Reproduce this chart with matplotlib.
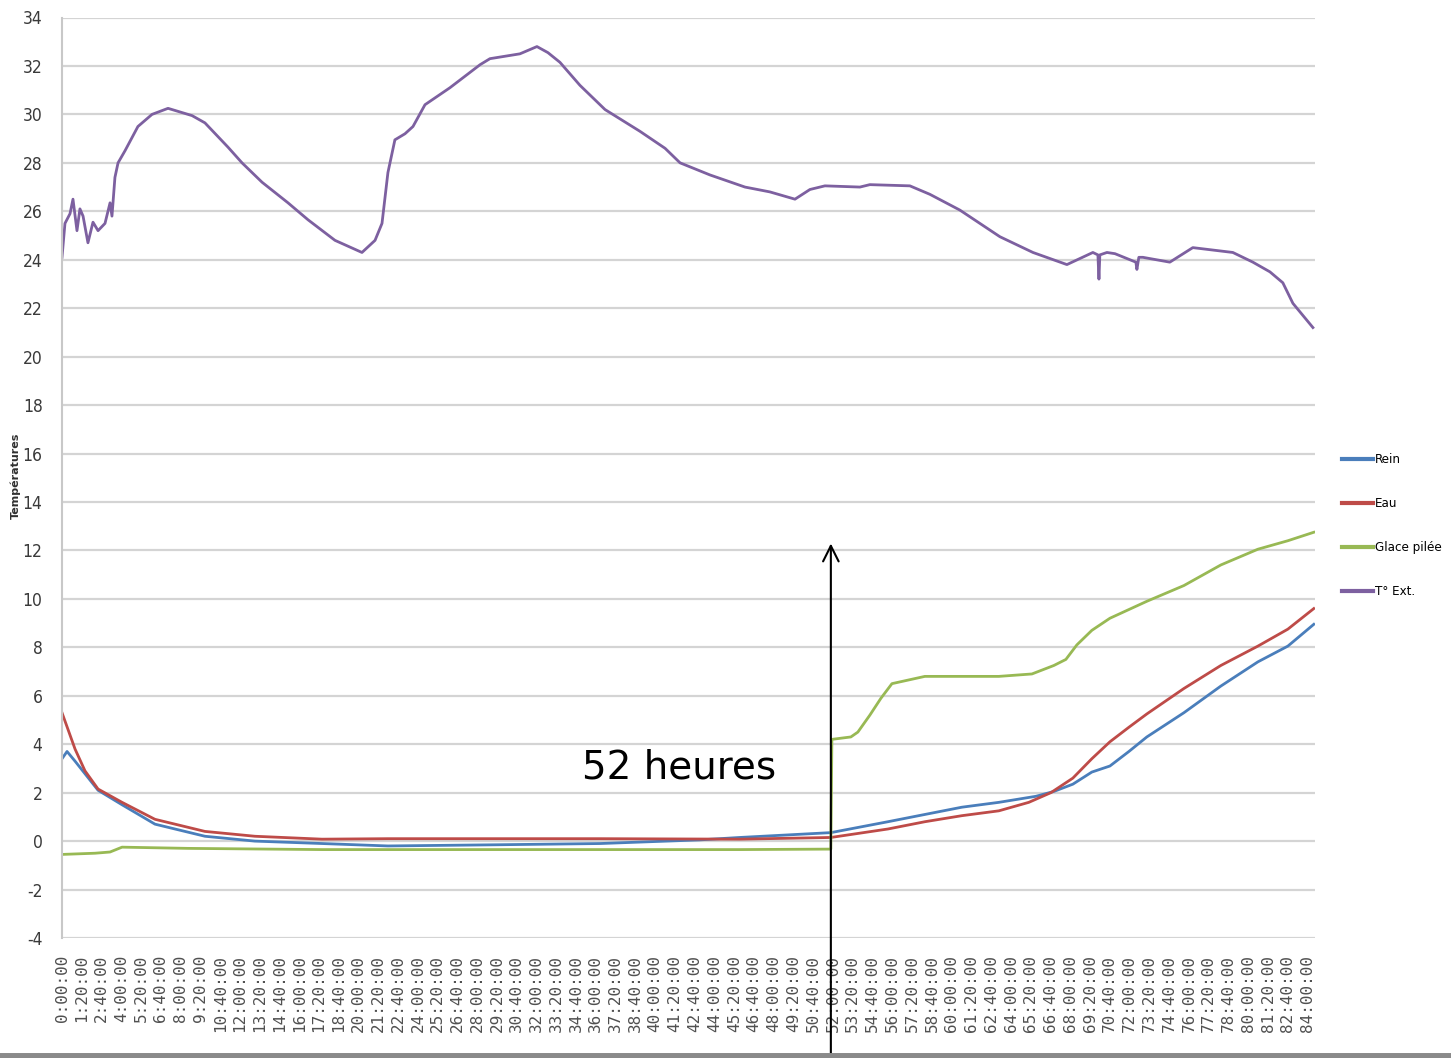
import matplotlib
matplotlib.use("Agg")
import matplotlib.pyplot as plt
from matplotlib.lines import Line2D
from matplotlib.font_manager import FontProperties

# ---------------- data (hours, °C) ----------------
rein_t = [0, 0.34, 0.88, 2.43, 4.05, 6.27, 9.64, 13.01, 17.53, 21.98, 29.5, 36.3, 43.0, 45.7,
          51.85, 55.7, 58.19, 60.69, 63.18, 65.68, 66.89, 68.17, 69.45, 70.67, 71.95, 73.16,
          75.66, 78.15, 80.65, 82.67, 84.42]
rein_v = [3.4, 3.7, 3.3, 2.1, 1.5, 0.7, 0.2, 0.0, -0.1, -0.2, -0.15, -0.1, 0.05, 0.15,
          0.35, 0.8, 1.1, 1.4, 1.6, 1.85, 2.05, 2.35, 2.85, 3.1, 3.7, 4.3,
          5.3, 6.4, 7.4, 8.05, 8.95]

eau_t = [0, 0.88, 1.55, 2.43, 4.05, 6.27, 9.64, 13.01, 17.53, 21.98, 29.5, 36.3, 45.7,
         51.85, 55.7, 58.19, 60.69, 63.18, 65.2, 66.69, 68.17, 69.45, 70.67, 71.95, 73.16,
         75.66, 78.15, 80.65, 82.67, 84.42]
eau_v = [5.3, 3.8, 2.9, 2.15, 1.6, 0.9, 0.4, 0.2, 0.08, 0.1, 0.1, 0.1, 0.08,
         0.15, 0.5, 0.8, 1.05, 1.25, 1.6, 2.0, 2.6, 3.4, 4.1, 4.7, 5.25,
         6.3, 7.25, 8.05, 8.75, 9.6]

glace_t = [0, 2.23, 3.24, 4.05, 8.5, 17.53, 29.5, 45.7, 51.85, 51.92, 53.2, 53.67, 54.48,
           55.23, 55.97, 58.19, 60.69, 63.18, 65.41, 66.89, 67.7, 68.44, 69.45, 70.67,
           73.16, 75.66, 78.15, 80.65, 82.67, 84.42]
glace_v = [-0.55, -0.5, -0.45, -0.25, -0.3, -0.35, -0.35, -0.35, -0.33, 4.2, 4.3, 4.5, 5.2,
           5.9, 6.5, 6.8, 6.8, 6.8, 6.9, 7.25, 7.5, 8.1, 8.7, 9.2,
           9.9, 10.55, 11.4, 12.05, 12.4, 12.75]

ext_t = [0.0, 0.2, 0.54, 0.74, 1.01, 1.21, 1.42, 1.75, 2.09, 2.43, 2.9, 3.24, 3.37, 3.57,
         3.78, 4.25, 5.12, 6.07, 7.15, 8.77, 9.64, 11.19, 12.14, 13.49, 15.24, 16.59,
         18.41, 20.23, 21.11, 21.58, 21.98, 22.45, 23.13, 23.67, 24.48, 26.16, 28.19,
         28.86, 30.88, 32.03, 32.77, 33.58, 34.93, 36.62, 38.98, 40.67, 41.68, 43.7,
         46.06, 47.74, 49.43, 50.44, 51.45, 53.81, 54.48, 57.18, 58.53, 60.55, 63.25,
         65.48, 67.77, 69.52, 69.86, 69.93, 69.99, 70.47, 71.01, 72.42, 72.49, 72.62,
         72.89, 74.71, 76.26, 78.96, 80.31, 81.46, 82.33, 83.01, 84.36]
ext_v = [24.1, 25.5, 25.9, 26.5, 25.2, 26.1, 25.8, 24.7, 25.55, 25.2, 25.5, 26.35, 25.8, 27.4,
         28.0, 28.5, 29.5, 30.0, 30.25, 29.95, 29.65, 28.65, 28.0, 27.2, 26.35, 25.65,
         24.8, 24.3, 24.8, 25.5, 27.6, 28.95, 29.2, 29.5, 30.4, 31.1, 32.05,
         32.3, 32.5, 32.8, 32.55, 32.15, 31.2, 30.2, 29.3, 28.6, 28.0, 27.5,
         27.0, 26.8, 26.5, 26.9, 27.05, 27.0, 27.1, 27.05, 26.7, 26.05, 24.95,
         24.3, 23.8, 24.3, 24.2, 23.2, 24.2, 24.3, 24.25, 23.9, 23.6, 24.1,
         24.1, 23.9, 24.5, 24.3, 23.9, 23.5, 23.05, 22.2, 21.2]

series_names = ["Rein", "Eau", "Glace pilée", "T° Ext."]
series_colors = ["#4a7ebb", "#be4b48", "#98b954", "#7d60a0"]

tick_hours_step = 80 / 60.0
n_ticks = 64
y_ticks = list(range(-4, 35, 2))

annot_text = "52 heures"
annot_hour = 51.85

# ---------------- figure ----------------
W, H = 1451, 1058
fig = plt.figure(figsize=(W / 100, H / 100), dpi=100)
ax = fig.add_axes([62 / W, 1 - 938 / H, (1315 - 62) / W, (938 - 17.5) / H])

data = [(rein_t, rein_v), (eau_t, eau_v), (glace_t, glace_v), (ext_t, ext_v)]
for (t, v), name, c in zip(data, series_names, series_colors):
    ax.plot(t, v, color=c, lw=2.0, label=name, solid_joinstyle="round")

ax.set_xlim(0, 84.5)
ax.set_ylim(-4, 34)
ax.set_yticks(y_ticks)
ax.grid(axis="y", color="#d4d4d4", lw=1.6)
ax.set_axisbelow(True)
for s in ["top", "right", "bottom"]:
    ax.spines[s].set_visible(False)
ax.spines["left"].set_color("#c8c8c8")
ax.spines["left"].set_linewidth(1.5)

narrow_y = FontProperties(family="DejaVu Sans", stretch="condensed", size=12.5)
ax.set_yticklabels([str(v) for v in y_ticks], fontproperties=narrow_y, color="#3a3a3a")
ax.tick_params(axis="y", length=0, pad=14)

xt = [i * tick_hours_step for i in range(n_ticks)]
xl = []
for i in range(n_ticks):
    m = i * 80
    xl.append(f"{m // 60}:{m % 60:02d}:00")
ax.set_xticks(xt)
ax.set_xticklabels(xl, rotation=90, family="DejaVu Sans Mono", fontsize=11.5,
                   color="#505050", va="top", ha="center")
ax.tick_params(axis="x", length=0, pad=12)

ax.set_ylabel("Températures", fontsize=8, fontweight="bold", color="#303030", labelpad=6)
ax.yaxis.set_label_coords(-0.033, 0.502)

# legend
leg_font = FontProperties(family="DejaVu Sans", stretch="condensed", size=9.5)
fig.legend(handles=[Line2D([], [], color=c, lw=3) for c in series_colors],
           labels=series_names, loc="upper left",
           bbox_to_anchor=(1337 / W, 1 - 448 / H), frameon=False,
           prop=leg_font,
           handlelength=2.3, handletextpad=0.15, labelspacing=2.35, borderaxespad=0)

# annotation
ax.text(41.6, 3.05, annot_text, fontsize=28, family="DejaVu Sans",
        ha="center", va="center", color="black")
ax.annotate("", xy=(annot_hour, 12.4), xytext=(annot_hour, 0),
            xycoords="data", textcoords=("data", "figure fraction"),
            arrowprops=dict(arrowstyle="->", lw=1.5, color="black", mutation_scale=28),
            annotation_clip=False)

# bottom window border
fig.add_artist(Line2D([0, 1], [2 / H, 2 / H], transform=fig.transFigure,
                      color="#8a8a8a", lw=5))

fig.savefig("out.png", dpi=100)
